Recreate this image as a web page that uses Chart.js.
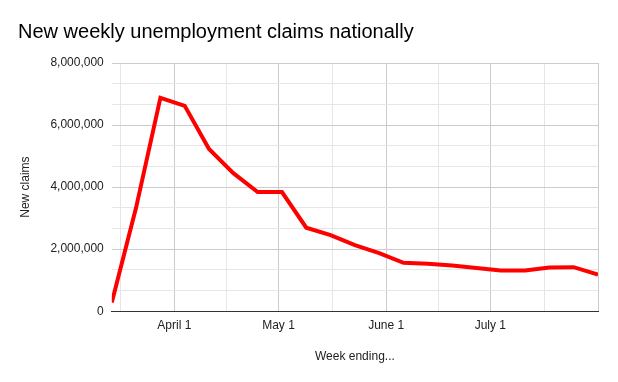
<!DOCTYPE html>
<html>
<head>
<meta charset="utf-8">
<script src="https://cdn.jsdelivr.net/npm/chart.js@4"></script>
<style>
  html, body { margin: 0; padding: 0; background: #fff; }
  #wrap { width: 618px; height: 382px; }
</style>
</head>
<body>
<div id="wrap"><canvas id="myChart"></canvas></div>
<script>
// week ending dates (2020) and new claims
var weekEnding = ['2020-03-14','2020-03-21','2020-03-28','2020-04-04','2020-04-11','2020-04-18',
    '2020-04-25','2020-05-02','2020-05-09','2020-05-16','2020-05-23','2020-05-30','2020-06-06',
    '2020-06-13','2020-06-20','2020-06-27','2020-07-04','2020-07-11','2020-07-18','2020-07-25','2020-08-01'];
var newClaims = [280000, 3340000, 6880000, 6620000, 5230000, 4450000,
    3840000, 3840000, 2690000, 2450000, 2130000, 1870000, 1560000,
    1530000, 1470000, 1390000, 1310000, 1310000, 1410000, 1420000, 1180000];

var monthTicks = ['2020-04-01','2020-05-01','2020-06-01','2020-07-01'];
var monthLabels = ['April 1','May 1','June 1','July 1'];
var yTickLabels = ['0','2,000,000','4,000,000','6,000,000','8,000,000'];

var dayMs = 86400000;
var start = Date.parse('2020-03-01');
function dayOf(s) { return (Date.parse(s) - start) / dayMs; }

var points = [];
for (var i = 0; i < weekEnding.length; i++) {
    points.push({x: dayOf(weekEnding[i]), y: newClaims[i]});
}

// major ticks at month starts, minor halfway between
var monthDays = monthTicks.map(dayOf);
var xTicks = [];
var prev = dayOf('2020-03-01');
monthDays.concat([dayOf('2020-08-01')]).forEach(function(d) {
    xTicks.push({value: (prev + d) / 2, major: false});
    xTicks.push({value: d, major: true});
    prev = d;
});

var ctx = document.getElementById('myChart').getContext('2d');
var myChart = new Chart(ctx, {
    type: 'line',
    data: {
        datasets: [{
            label: 'New claims',
            data: points,
            borderColor: '#ff0000',
            borderWidth: 4,
            pointRadius: 0,
            tension: 0,
            fill: false
        }]
    },
    options: {
        responsive: true,
        maintainAspectRatio: false,
        animation: false,
        layout: { padding: { left: 18, right: 20, top: 8, bottom: 18 } },
        plugins: {
            legend: { display: false },
            tooltip: { enabled: false },
            title: {
                display: true,
                text: 'New weekly unemployment claims nationally',
                align: 'start',
                color: '#000',
                font: { family: 'Liberation Sans, Arial', size: 20, weight: 'normal' },
                padding: { top: 12, bottom: 19 }
            }
        },
        scales: {
            x: {
                type: 'linear',
                min: dayOf(weekEnding[0]),
                max: dayOf(weekEnding[weekEnding.length - 1]),
                afterBuildTicks: function(axis) {
                    axis.ticks = xTicks.map(function(t) { return {value: t.value, major: t.major}; });
                },
                grid: {
                    drawTicks: false,
                    color: function(c) {
                        return (c.tick && c.tick.major) || (c.tick && c.tick.value === dayOf('2020-08-01')) ? '#cccccc' : '#e6e6e6';
                    }
                },
                border: { display: true, color: '#333333', width: 1 },
                ticks: {
                    autoSkip: false,
                    maxRotation: 0,
                    padding: 7,
                    color: '#222',
                    font: { family: 'Liberation Sans, Arial', size: 12 },
                    callback: function(v) {
                        var k = monthDays.indexOf(v);
                        return k >= 0 ? monthLabels[k] : '';
                    }
                },
                title: {
                    display: true,
                    text: 'Week ending...',
                    color: '#222',
                    font: { family: 'Liberation Sans, Arial', size: 12 },
                    padding: { top: 10, bottom: 0 }
                }
            },
            y: {
                min: 0,
                max: 8000000,
                afterBuildTicks: function(axis) {
                    var t = [];
                    for (var j = 0; j <= 12; j++) t.push({value: j * 8000000 / 12});
                    axis.ticks = t;
                },
                grid: {
                    drawTicks: false,
                    color: function(c) { return c.index % 3 === 0 ? '#cccccc' : '#e6e6e6'; }
                },
                border: { display: false },
                ticks: {
                    padding: 8,
                    color: '#222',
                    font: { family: 'Liberation Sans, Arial', size: 12 },
                    callback: function(v, idx) { return idx % 3 === 0 ? yTickLabels[idx / 3] : ''; }
                },
                title: {
                    display: true,
                    text: 'New claims',
                    color: '#222',
                    font: { family: 'Liberation Sans, Arial', size: 12 },
                    padding: { top: 0, bottom: 10 }
                }
            }
        }
    }
});
</script>
</body>
</html>
